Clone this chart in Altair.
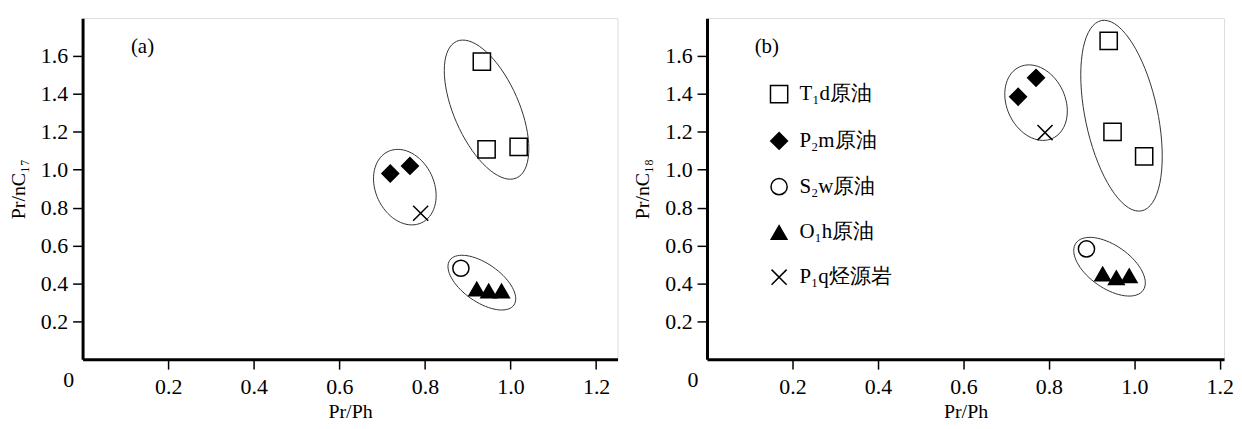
import math
import altair as alt
import pandas as pd

# ---------------- data ----------------
TYPES = ["T₁d原油", "P₂m原油", "S₂w原油", "O₁h原油", "P₁q烃源岩"]
SHAPES = ["square", "diamond", "circle", "triangle-up", "M-1,-1L1,1M-1,1L1,-1"]
FILLS = ["white", "black", "white", "black", "white"]
STROKES = ["black", "black", "black", "black", "black"]
SIZES = [300, 230, 180, 340, 200]

pt_type = ["T₁d原油", "T₁d原油", "T₁d原油", "P₂m原油", "P₂m原油",
           "S₂w原油", "O₁h原油", "O₁h原油", "O₁h原油", "P₁q烃源岩"]

a_prph = [0.933, 0.944, 1.019, 0.719, 0.765, 0.884, 0.921, 0.949, 0.979, 0.790]
a_prnc17 = [1.57, 1.107, 1.12, 0.98, 1.02, 0.48, 0.37, 0.36, 0.36, 0.77]

b_prph = [0.940, 0.949, 1.023, 0.728, 0.770, 0.888, 0.926, 0.958, 0.988, 0.791]
b_prnc18 = [1.68, 1.20, 1.07, 1.385, 1.485, 0.582, 0.45, 0.43, 0.44, 1.196]

# ellipses (centre in data units, semi-axes in px, tilt in degrees)
a_ell_cx = [0.944, 0.753, 0.933]
a_ell_cy = [1.317, 0.908, 0.404]
a_ell_ra = [75, 39.6, 39.3]
a_ell_rb = [32.8, 29.4, 19.3]
a_ell_ang = [113.6, 115, -35]

b_ell_cx = [0.970, 0.770, 0.942]
b_ell_cy = [1.285, 1.354, 0.488]
b_ell_ra = [97.8, 39.6, 41.3]
b_ell_rb = [36.4, 29.4, 21.5]
b_ell_ang = [102, 115, -35]

x_ticks = [0.2, 0.4, 0.6, 0.8, 1.0, 1.2]
y_ticks = [0.2, 0.4, 0.6, 0.8, 1.0, 1.2, 1.4, 1.6]

# ---------------- layout ----------------
H = 343
Y_MAX = 1.8
PX_PER_X = 430.0
PX_PER_Y = H / Y_MAX
FONT = "Liberation Serif"


def ellipse_df(cx, cy, ra, rb, ang):
    rows = []
    for k in range(len(cx)):
        th = math.radians(ang[k])
        ux, uy = math.cos(th), math.sin(th)
        vx, vy = -uy, ux
        for i in range(73):
            t = 2 * math.pi * i / 72
            dx = ra[k] * math.cos(t) * ux + rb[k] * math.sin(t) * vx
            dy = ra[k] * math.cos(t) * uy + rb[k] * math.sin(t) * vy
            rows.append({"e": k, "i": i,
                         "x": cx[k] + dx / PX_PER_X,
                         "y": cy[k] + dy / PX_PER_Y})
    return pd.DataFrame(rows)


def panel(xs, ys, ytitle, tag, xmax, width, show_legend):
    xs_scale = alt.Scale(domain=[0, xmax], nice=False, zero=False)
    ys_scale = alt.Scale(domain=[0, Y_MAX], nice=False, zero=False)
    common = dict(domainWidth=3, domainColor="black", tickColor="black",
                  tickWidth=1.5, tickSize=10, labelFont=FONT,
                  labelFontSize=22, labelColor="black", grid=False,
                  titleFont=FONT, titleFontSize=20, titleFontWeight="normal",
                  titleColor="black", format=".1f")
    xaxis = alt.Axis(values=x_ticks, title="Pr/Ph", labelPadding=8,
                     titlePadding=4, **common)
    yaxis = alt.Axis(values=y_ticks, title=ytitle, labelPadding=5,
                     titlePadding=12, **common)

    df = pd.DataFrame({"x": xs, "y": ys, "type": pt_type})
    if show_legend:
        leg = alt.Legend(orient="none", legendX=62, legendY=66, title=None,
                         labelFont=FONT, labelFontSize=21, labelColor="black",
                         symbolStrokeWidth=1.5,
                         rowPadding=23, labelOffset=10, padding=0)
    else:
        leg = None
    sdom = dict(domain=TYPES)
    if leg is None:
        shape = alt.Shape("type:N", scale=alt.Scale(range=SHAPES, **sdom), legend=None)
        fill = alt.Fill("type:N", scale=alt.Scale(range=FILLS, **sdom), legend=None)
        stroke = alt.Stroke("type:N", scale=alt.Scale(range=STROKES, **sdom), legend=None)
        size = alt.Size("type:N", scale=alt.Scale(range=SIZES, **sdom), legend=None)
    else:
        shape = alt.Shape("type:N", scale=alt.Scale(range=SHAPES, **sdom), legend=leg)
        fill = alt.Fill("type:N", scale=alt.Scale(range=FILLS, **sdom), legend=leg)
        stroke = alt.Stroke("type:N", scale=alt.Scale(range=STROKES, **sdom), legend=leg)
        size = alt.Size("type:N", scale=alt.Scale(range=SIZES, **sdom), legend=leg)

    base_x = alt.X("x:Q", scale=xs_scale, axis=xaxis)
    base_y = alt.Y("y:Q", scale=ys_scale, axis=yaxis)

    if tag == "(a)":
        ell = ellipse_df(a_ell_cx, a_ell_cy, a_ell_ra, a_ell_rb, a_ell_ang)
    else:
        ell = ellipse_df(b_ell_cx, b_ell_cy, b_ell_ra, b_ell_rb, b_ell_ang)

    ell_layer = alt.Chart(ell).mark_line(color="#333333", strokeWidth=1).encode(
        x=base_x, y=base_y, detail="e:N", order="i:Q")

    pts = alt.Chart(df).mark_point(filled=True, strokeWidth=1.5,
                                   opacity=1).encode(
        x=base_x, y=base_y, shape=shape, fill=fill, stroke=stroke, size=size)

    tag_df = pd.DataFrame({"x": [0.14], "y": [1.65], "t": [tag]})
    tag_layer = alt.Chart(tag_df).mark_text(font=FONT, fontSize=21, color="black",
                                            align="center", baseline="middle").encode(
        x=base_x, y=base_y, text="t:N")

    zero_df = pd.DataFrame({"x": [0.0], "y": [0.0], "t": ["0"]})
    zero_layer = alt.Chart(zero_df).mark_text(font=FONT, fontSize=22, color="black",
                                              align="center", baseline="middle",
                                              dx=-14, dy=21).encode(
        x=base_x, y=base_y, text="t:N")

    return alt.layer(ell_layer, pts, tag_layer, zero_layer).properties(
        width=width, height=H)


pa = panel(a_prph, a_prnc17, "Pr/nC₁₇", "(a)", 1.25, 538, False)
pb = panel(b_prph, b_prnc18, "Pr/nC₁₈", "(b)", 1.21, 520, True)

chart = alt.hconcat(pa, pb, spacing=14).resolve_legend(
    shape="independent", fill="independent", stroke="independent",
    size="independent"
).properties(
    padding={"left": 0, "top": 8, "right": 0, "bottom": 0}
).configure_view(strokeWidth=0).configure(background="white")

chart.save("out.html", embed_options={"renderer": "svg", "actions": False})
